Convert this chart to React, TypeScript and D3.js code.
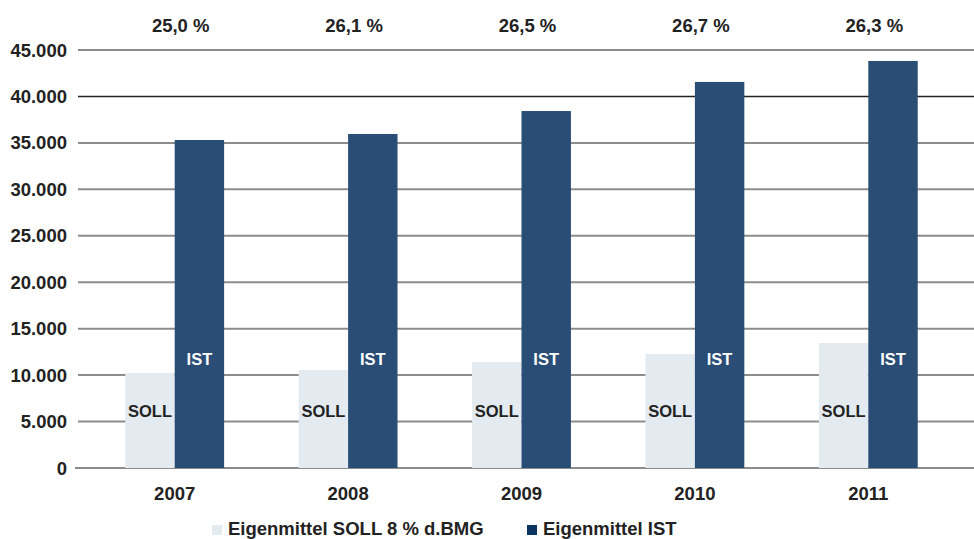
import React, { useEffect, useRef } from "react";
import * as d3 from "d3";

const years = ["2007", "2008", "2009", "2010", "2011"];
const sollValues = [10230, 10550, 11410, 12270, 13460];
const istValues = [35310, 35960, 38430, 41560, 43820];
const ratioLabels = ["25,0 %", "26,1 %", "26,5 %", "26,7 %", "26,3 %"];
const yTicks = [0, 5000, 10000, 15000, 20000, 25000, 30000, 35000, 40000, 45000];
const seriesKeys = ["soll", "ist"];
const seriesLabels = ["Eigenmittel SOLL 8 % d.BMG", "Eigenmittel IST"];

const W = 974;
const H = 539;
const FONT = "'Liberation Sans', Arial, Helvetica, sans-serif";

const App = () => {
  const svgRef = useRef<SVGSVGElement>(null);

  useEffect(() => {
    const svg = d3.select(svgRef.current);
    svg.selectAll("*").remove();

    const rows = years.map((year, i) => ({
      year,
      soll: sollValues[i],
      ist: istValues[i],
    }));

    // scales
    const x0 = d3
      .scaleBand()
      .domain(years)
      .range([88, 955])
      .paddingInner(0.43)
      .paddingOuter(0.215);
    const x1 = d3.scaleBand().domain(seriesKeys).range([0, x0.bandwidth()]);
    const y = d3.scaleLinear().domain([0, 45000]).range([468, 50]);

    const fmt = (v: number) => (v === 0 ? "0" : d3.format(",")(v).replace(/,/g, "."));

    // grid lines
    svg
      .append("g")
      .selectAll("line")
      .data(yTicks)
      .join("line")
      .attr("x1", (d) => (d === 0 ? 75 : 78))
      .attr("x2", W)
      .attr("y1", (d) => y(d))
      .attr("y2", (d) => y(d))
      .attr("stroke", (d) => (d === 40000 ? "#222" : "#8c8c8c"))
      .attr("stroke-width", (d) => (d === 40000 ? 1.5 : 2));

    // y labels
    svg
      .append("g")
      .selectAll("text")
      .data(yTicks)
      .join("text")
      .attr("x", 67)
      .attr("y", (d) => y(d) + 6.5)
      .attr("text-anchor", "end")
      .attr("font-family", FONT)
      .attr("font-weight", "bold")
      .attr("font-size", 18.5)
      .attr("fill", "#222")
      .text(fmt);

    // bars
    const groups = svg
      .append("g")
      .selectAll("g")
      .data(rows)
      .join("g")
      .attr("transform", (d) => `translate(${x0(d.year)},0)`);

    groups
      .append("rect")
      .attr("x", x1("soll")!)
      .attr("width", x1.bandwidth())
      .attr("y", (d) => y(d.soll))
      .attr("height", (d) => y(0) - y(d.soll))
      .attr("fill", "#e3ebf1");

    groups
      .append("rect")
      .attr("x", x1("ist")!)
      .attr("width", x1.bandwidth())
      .attr("y", (d) => y(d.ist))
      .attr("height", (d) => y(0) - y(d.ist))
      .attr("fill", "#2a4d75");

    groups
      .append("text")
      .attr("x", x1("soll")! + x1.bandwidth() / 2)
      .attr("y", 417)
      .attr("text-anchor", "middle")
      .attr("font-family", FONT)
      .attr("font-weight", "bold")
      .attr("font-size", 16.5)
      .attr("fill", "#222")
      .text("SOLL");

    groups
      .append("text")
      .attr("x", x1("ist")! + x1.bandwidth() / 2)
      .attr("y", 365)
      .attr("text-anchor", "middle")
      .attr("font-family", FONT)
      .attr("font-weight", "bold")
      .attr("font-size", 16.5)
      .attr("fill", "#fff")
      .text("IST");

    // year labels
    groups
      .append("text")
      .attr("x", x0.bandwidth() / 2)
      .attr("y", 500)
      .attr("text-anchor", "middle")
      .attr("font-family", FONT)
      .attr("font-weight", "bold")
      .attr("font-size", 18.5)
      .attr("fill", "#222")
      .text((d) => d.year);

    // ratio labels on top
    groups
      .append("text")
      .attr("x", x0.bandwidth() / 2 + 6)
      .attr("y", 32)
      .attr("text-anchor", "middle")
      .attr("font-family", FONT)
      .attr("font-weight", "bold")
      .attr("font-size", 18.5)
      .attr("fill", "#222")
      .text((d, i) => ratioLabels[i]);

    // legend
    const legendX = [212, 527];
    const legendColors = ["#e3ebf1", "#0b3461"];
    const legend = svg
      .append("g")
      .selectAll("g")
      .data(seriesLabels)
      .join("g")
      .attr("transform", (d, i) => `translate(${legendX[i]},0)`);

    legend
      .append("rect")
      .attr("y", 525)
      .attr("width", 10)
      .attr("height", 10)
      .attr("fill", (d, i) => legendColors[i]);

    legend
      .append("text")
      .attr("x", 16)
      .attr("y", 535)
      .attr("font-family", FONT)
      .attr("font-weight", "bold")
      .attr("font-size", 18.5)
      .attr("fill", "#222")
      .text((d) => d);
  }, []);

  return (
    <svg
      ref={svgRef}
      width={W}
      height={H}
      style={{ position: "absolute", left: 0, top: 0, background: "#fff" }}
    ></svg>
  );
};

export default App;
